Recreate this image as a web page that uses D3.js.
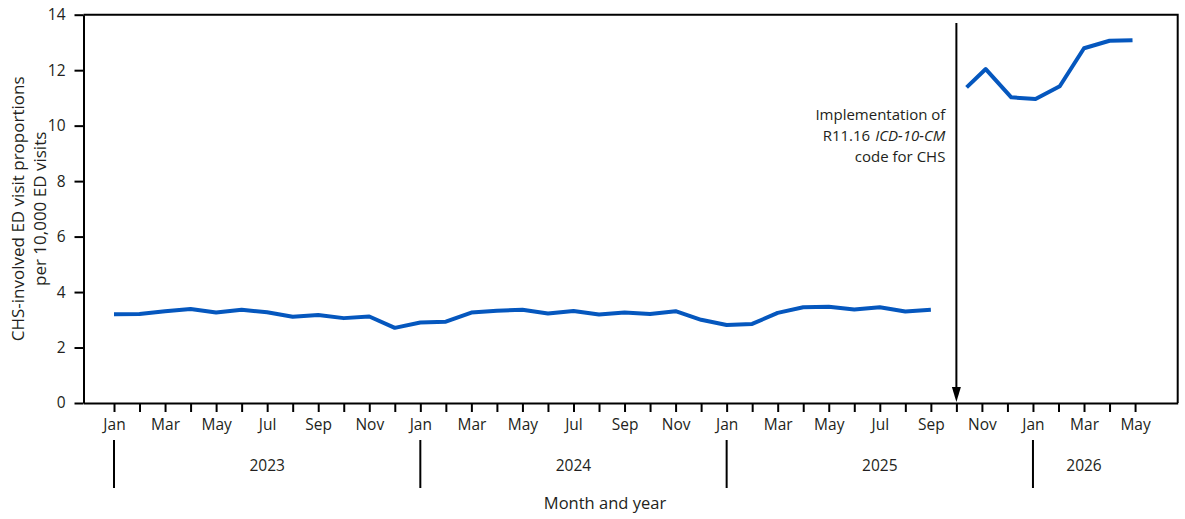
<!DOCTYPE html>
<html>
<head>
<meta charset="utf-8">
<script src="https://cdn.jsdelivr.net/npm/d3@7"></script>
<style>
  body { margin: 0; background: #fff; }
  svg text { font-family: "Open Sans", "Noto Sans", sans-serif; fill: #231f20; }
</style>
</head>
<body>
<div id="chart"></div>
<script>
// month index: 0 = Jan 2023
const monthNames = ['Jan', 'Feb', 'Mar', 'Apr', 'May', 'Jun', 'Jul', 'Aug', 'Sep', 'Oct', 'Nov', 'Dec']
const years = [2023, 2024, 2025, 2026]
const lastMonth = 40 // May 2026

// before the R11.16 code (Jan 2023 - Sep 2025)
const beforeValues = [
  3.20, 3.21, 3.31, 3.39, 3.26, 3.36, 3.27, 3.11, 3.17, 3.06, 3.12, 2.71,
  2.90, 2.93, 3.26, 3.33, 3.36, 3.23, 3.32, 3.19, 3.26, 3.21, 3.31, 3.00,
  2.81, 2.85, 3.25, 3.45, 3.47, 3.37, 3.45, 3.30, 3.36
]
// after the code (Oct 2025 - May 2026), positions as plotted
const afterMonths = [33.4, 34.15, 35.15, 36.1, 37.05, 38, 39, 39.9]
const afterValues = [11.38, 12.04, 11.02, 10.96, 11.42, 12.79, 13.06, 13.08]

const codeMonth = 33 // Oct 2025
const yTicks = [0, 2, 4, 6, 8, 10, 12, 14]

const width = 1185, height = 519

const svg = d3.select('#chart').append('svg')
  .attr('width', width)
  .attr('height', height)

const x = d3.scaleLinear()
  .domain([-1.195, 41.67])
  .range([83.5, 1177.7])

const y = d3.scaleLinear()
  .domain([0, 14])
  .range([403, 14.7])

// frame (top and right)
svg.append('path')
  .attr('d', `M${x.range()[0]},${y(14)}H${x.range()[1]}V${y(0)}`)
  .attr('fill', 'none')
  .attr('stroke', '#000')
  .attr('stroke-width', 2)

// x axis
const xAxis = d3.axisBottom(x)
  .tickValues(d3.range(0, lastMonth + 1))
  .tickFormat(i => i % 2 === 0 ? monthNames[i % 12] : '')
  .tickSize(9)
  .tickSizeOuter(0)
  .tickPadding(7)

const gx = svg.append('g')
  .attr('transform', `translate(0,${y(0)})`)
  .call(xAxis)
gx.select('.domain').attr('stroke-width', 2)
gx.selectAll('.tick line').attr('stroke-width', 2)
gx.selectAll('.tick text').style('font-size', '15.5px')

// y axis
const yAxis = d3.axisLeft(y)
  .tickValues(yTicks)
  .tickSize(9)
  .tickSizeOuter(0)
  .tickPadding(9)

const gy = svg.append('g')
  .attr('transform', `translate(${x.range()[0]},0)`)
  .call(yAxis)
gy.select('.domain').attr('stroke-width', 2)
gy.selectAll('.tick line').attr('stroke-width', 2)
gy.selectAll('.tick text').style('font-size', '15.5px')

// year separators and labels
const yearStarts = years.map((yr, k) => k * 12)
svg.selectAll('.year-sep')
  .data(yearStarts)
  .enter().append('line')
  .attr('class', 'year-sep')
  .attr('x1', d => x(d)).attr('x2', d => x(d))
  .attr('y1', 440).attr('y2', 488)
  .attr('stroke', '#000')
  .attr('stroke-width', 2)

svg.selectAll('.year-label')
  .data(years)
  .enter().append('text')
  .attr('class', 'year-label')
  .attr('x', (d, k) => x((yearStarts[k] + Math.min(yearStarts[k] + 12, lastMonth)) / 2))
  .attr('y', 466)
  .attr('dy', '0.35em')
  .attr('text-anchor', 'middle')
  .style('font-size', '15.5px')
  .text(d => d)

// axis titles
svg.append('text')
  .attr('x', 605)
  .attr('y', 503)
  .attr('dy', '0.35em')
  .attr('text-anchor', 'middle')
  .style('font-size', '16.5px')
  .text('Month and year')

const yMid = (y(0) + y(14)) / 2
svg.selectAll('.y-title')
  .data(['CHS-involved ED visit proportions', 'per 10,000 ED visits'])
  .enter().append('text')
  .attr('class', 'y-title')
  .attr('transform', (d, i) => `translate(${18 + i * 22},${yMid}) rotate(-90)`)
  .attr('dy', '0.35em')
  .attr('text-anchor', 'middle')
  .style('font-size', '17px')
  .text(d => d)

// lines
const line = d3.line()
  .x(d => x(d[0]))
  .y(d => y(d[1]))

const beforeData = beforeValues.map((v, i) => [i, v])
const afterData = afterValues.map((v, i) => [afterMonths[i], v])

svg.selectAll('.series')
  .data([beforeData, afterData])
  .enter().append('path')
  .attr('class', 'series')
  .attr('d', line)
  .attr('fill', 'none')
  .attr('stroke', '#0557be')
  .attr('stroke-width', 4)
  .attr('stroke-linejoin', 'round')

// implementation arrow
const ax = x(codeMonth)
svg.append('line')
  .attr('x1', ax).attr('x2', ax)
  .attr('y1', y(13.7)).attr('y2', y(0) - 10)
  .attr('stroke', '#000')
  .attr('stroke-width', 2)
svg.append('path')
  .attr('d', `M${ax - 4.5},${y(0) - 16}L${ax + 4.5},${y(0) - 16}L${ax},${y(0) - 1}Z`)
  .attr('fill', '#000')

const noteX = ax - 11
const noteText = (txt, yy) => svg.append('text')
  .attr('x', noteX)
  .attr('y', yy)
  .attr('text-anchor', 'end')
  .style('font-size', '15px')
  .text(txt)

noteText('Implementation of', 119.5)
const icd = noteText('ICD-10-CM', 140.5).style('font-style', 'italic')
const icdW = icd.node().getComputedTextLength()
svg.append('text')
  .attr('x', noteX - icdW - 5)
  .attr('y', 140.5)
  .attr('text-anchor', 'end')
  .style('font-size', '15px')
  .text('R11.16')
noteText('code for CHS', 161.5)
</script>
</body>
</html>
